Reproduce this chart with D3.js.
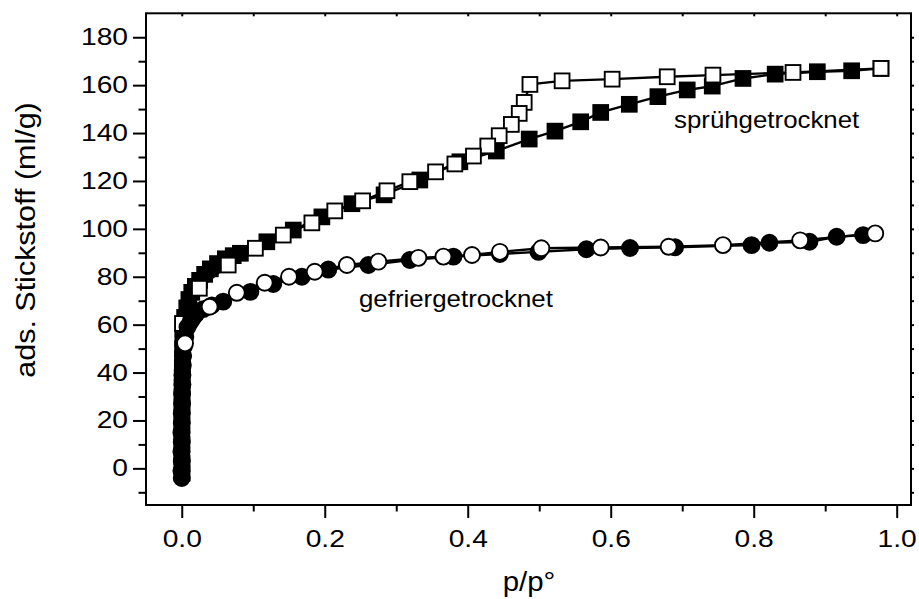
<!DOCTYPE html>
<html>
<head>
<meta charset="utf-8">
<script src="https://cdn.jsdelivr.net/npm/d3@7"></script>
<style>
  body { margin: 0; background: #fff; }
  svg { display: block; font-family: "Liberation Sans", Arial, sans-serif; }
  .axis path { display: none; }
  .axis line { stroke: #000; stroke-width: 2; }
  .axis text { fill: #000; font-size: 23.5px; }
</style>
</head>
<body>
<div id="chart"></div>
<script>
// sprühgetrocknet, adsorption (filled squares)
const sprAdsP = [0.0005, 0.0003, 0.0002, 0.0002, 0.0002, 0.0002, 0.0003, 0.0003, 0.0004, 0.0005, 0.0006, 0.0008, 0.001, 0.0012, 0.0015, 0.002,
  0.004, 0.007, 0.010, 0.014, 0.019, 0.025, 0.032, 0.040, 0.050, 0.061, 0.072, 0.082, 0.119, 0.156, 0.196, 0.238, 0.283, 0.333, 0.389,
  0.440, 0.486, 0.522, 0.558, 0.586, 0.626, 0.666, 0.707, 0.742, 0.785, 0.830, 0.889, 0.937, 0.978];
const sprAdsV = [-2, 2, 6, 10, 14, 18, 22, 26, 30, 34, 38, 42, 46, 50, 54, 58,
  63, 67, 70.5, 73.5, 76, 78.5, 81, 83.3, 85.5, 87.5, 88.8, 89.8, 94.6, 99.5, 105, 110.5, 114.2, 120.4, 128,
  132.5, 137.5, 140.8, 144.7, 148.6, 152.0, 155.2, 158.0, 159.6, 162.8, 164.6, 165.6, 166.0, 167.0];

// sprühgetrocknet, desorption (open squares)
const sprDesP = [0.978, 0.855, 0.743, 0.679, 0.602, 0.532, 0.487, 0.479, 0.472, 0.461, 0.444, 0.428, 0.408, 0.382, 0.355, 0.319,
  0.287, 0.253, 0.214, 0.182, 0.142, 0.103, 0.065, 0.0246, 0.001];
const sprDesV = [167.0, 165.3, 164.2, 163.5, 162.5, 161.8, 160.3, 152.8, 148.2, 143.6, 138.9, 134.6, 130.4, 127.1, 123.8, 119.7,
  115.9, 111.7, 107.5, 102.5, 97.4, 91.9, 84.9, 75.2, 60.5];

// gefriergetrocknet, adsorption (filled circles)
const gefAdsP = [0.0, -0.0005, 0.0, -0.0005, 0.0, -0.0005, 0.0, 0.0, 0.0005, 0.0005, 0.001, 0.001, 0.0015, 0.002, 0.003, 0.005, 0.008, 0.013, 0.02, 0.03, 0.042,
  0.058, 0.096, 0.128, 0.168, 0.205, 0.261, 0.319, 0.380, 0.445, 0.499, 0.566, 0.627, 0.690, 0.797, 0.822, 0.878, 0.916, 0.953];
const gefAdsV = [-4, -1, 3, 7, 11, 15, 19, 23, 27, 31, 35, 39, 43, 47, 51, 55, 59, 62, 64.5, 66.5, 68,
  69.6, 73.7, 77, 80, 83, 84.9, 87, 88.4, 89.5, 90.4, 91.5, 92.0, 92.3, 93.2, 94.2, 94.6, 96.7, 97.4];

// gefriergetrocknet, desorption (open circles)
const gefDesP = [0.970, 0.865, 0.757, 0.681, 0.586, 0.503, 0.445, 0.406, 0.366, 0.331, 0.275, 0.231, 0.186, 0.150, 0.116, 0.077, 0.039, 0.0046];
const gefDesV = [98.1, 95.2, 93.2, 92.5, 92.2, 91.9, 90.4, 89.1, 88.4, 87.9, 86.3, 84.9, 82.1, 80.0, 77.5, 73.3, 67.5, 52.2];

const xMajor = [0, 0.2, 0.4, 0.6, 0.8, 1.0];
const xMinor = [0.1, 0.3, 0.5, 0.7, 0.9];
const yMajor = [0, 20, 40, 60, 80, 100, 120, 140, 160, 180];
const yMinor = [-10, 10, 30, 50, 70, 90, 110, 130, 150, 170];

const width = 919, height = 599;
const plotLeft = 146, plotRight = 911, plotTop = 13.3, plotBottom = 505;

const svg = d3.select('#chart').append('svg')
    .attr('width', width)
    .attr('height', height);

svg.append('rect').attr('width', width).attr('height', height).attr('fill', '#fff');

const x = d3.scaleLinear().domain([-0.05, 1.02]).range([plotLeft, plotRight]);
const y = d3.scaleLinear().domain([-15.3, 190]).range([plotBottom, plotTop]);

// axes
let yAxis = svg.append('g').classed('axis', true)
    .attr('transform', `translate(${plotLeft},0)`)
    .call(d3.axisLeft(y).tickValues(yMajor).tickSize(13));
yAxis.selectAll('text')
    .attr('x', 0)
    .attr('transform', 'translate(-18,0) scale(1.2,1)');

svg.append('g').classed('axis', true)
    .attr('transform', `translate(${plotLeft},0)`)
    .call(d3.axisLeft(y).tickValues(yMinor).tickSize(7.5).tickFormat(''))
    .selectAll('line').attr('stroke-width', 1.6);

let xAxis = svg.append('g').classed('axis', true)
    .attr('transform', `translate(0,${plotBottom})`)
    .call(d3.axisBottom(x).tickValues(xMajor).tickSize(13).tickFormat(d3.format('.1f')));
xAxis.selectAll('text')
    .attr('y', 0).attr('dy', 0)
    .attr('transform', 'translate(0,42) scale(1.2,1)');

svg.append('g').classed('axis', true)
    .attr('transform', `translate(0,${plotBottom})`)
    .call(d3.axisBottom(x).tickValues(xMinor).tickSize(6.5).tickFormat(''))
    .selectAll('line').attr('stroke-width', 1.6);

// small ticks on top and right
svg.append('g').classed('axis', true)
    .attr('transform', `translate(0,${plotTop})`)
    .call(d3.axisBottom(x).tickValues(xMajor.concat(xMinor)).tickSize(3).tickFormat(''))
    .selectAll('line').attr('stroke-width', 1.4);

svg.append('g').classed('axis', true)
    .attr('transform', `translate(${plotRight},0)`)
    .call(d3.axisRight(y).tickValues(yMajor.concat(yMinor)).tickSize(3).tickFormat(''))
    .selectAll('line').attr('stroke-width', 1.4);

// frame
svg.append('rect')
    .attr('x', plotLeft).attr('y', plotTop)
    .attr('width', plotRight - plotLeft).attr('height', plotBottom - plotTop)
    .attr('fill', 'none').attr('stroke', '#000').attr('stroke-width', 2);

// series
const plot = svg.append('g');
const line = d3.line().x(d => x(d[0])).y(d => y(d[1]));
const zip = (ps, vs) => ps.map((p, i) => [p, vs[i]]);

function drawSeries(data, shape, fill) {
    plot.append('path')
        .datum(data)
        .attr('d', line)
        .attr('fill', 'none')
        .attr('stroke', '#000')
        .attr('stroke-width', 2.4);
    if (shape === 'square') {
        const s = 14.8;
        plot.append('g').selectAll('rect')
            .data(data)
            .join('rect')
            .attr('x', d => x(d[0]) - s / 2)
            .attr('y', d => y(d[1]) - s / 2)
            .attr('width', s).attr('height', s)
            .attr('fill', fill)
            .attr('stroke', '#000')
            .attr('stroke-width', 1.9);
    } else {
        plot.append('g').selectAll('circle')
            .data(data)
            .join('circle')
            .attr('cx', d => x(d[0]))
            .attr('cy', d => y(d[1]))
            .attr('r', 8)
            .attr('fill', fill)
            .attr('stroke', '#000')
            .attr('stroke-width', 1.9);
    }
}

drawSeries(zip(sprAdsP, sprAdsV), 'square', '#000');
drawSeries(zip(sprDesP, sprDesV), 'square', '#fff');
drawSeries(zip(gefAdsP, gefAdsV), 'circle', '#000');
drawSeries(zip(gefDesP, gefDesV), 'circle', '#fff');

// annotations
svg.append('text')
    .attr('transform', 'translate(674,128.3) scale(1.1,1)')
    .attr('font-size', '23.5px')
    .text('sprühgetrocknet');

svg.append('text')
    .attr('transform', 'translate(359,307) scale(1.1,1)')
    .attr('font-size', '23.5px')
    .text('gefriergetrocknet');

// axis titles
svg.append('text')
    .attr('transform', 'translate(529,591) scale(1.05,1)')
    .attr('text-anchor', 'middle')
    .attr('font-size', '28px')
    .text('p/p°');

svg.append('text')
    .attr('transform', 'translate(35,240) rotate(-90) scale(1.07,1)')
    .attr('text-anchor', 'middle')
    .attr('font-size', '28.5px')
    .text('ads. Stickstoff (ml/g)');
</script>
</body>
</html>
